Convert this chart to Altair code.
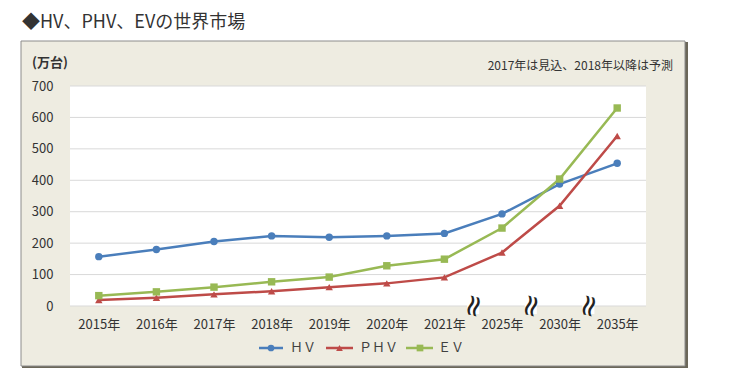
import altair as alt
import pandas as pd

# ---- data ----
years = ["2015年", "2016年", "2017年", "2018年", "2019年", "2020年", "2021年", "2025年", "2030年", "2035年"]
series_names = ["HV", "PHV", "EV"]
hv = [157, 180, 205, 223, 219, 223, 231, 293, 388, 454]
phv = [19, 26, 37, 47, 60, 72, 91, 170, 319, 541]
ev = [33, 45, 60, 77, 92, 128, 149, 248, 404, 630]
y_ticks = [0, 100, 200, 300, 400, 500, 600, 700]
break_before = ["2025年", "2030年", "2035年"]
legend_labels = ["ＨＶ", "ＰＨＶ", "ＥＶ"]
title_text = "◆HV、PHV、EVの世界市場"
unit_text = "(万台)"
note_text = "2017年は見込、2018年以降は予測"

colors = ["#4A7EBB", "#BE4B48", "#98B954"]
shapes = ["circle", "triangle-up", "square"]

rows = []
for name, vals in zip(series_names, [hv, phv, ev]):
    for yr, v in zip(years, vals):
        rows.append({"year": yr, "series": name, "value": v})
df = pd.DataFrame(rows)
grid_df = pd.DataFrame({"value": y_ticks})
break_df = pd.DataFrame({"year": break_before, "value": [0] * len(break_before)})
one = pd.DataFrame({"a": [0]})

W, H = 576, 220
FONT = "Noto Sans CJK JP"
TXT = "#333333"

x_enc = alt.X("year:N", sort=years,
              scale=alt.Scale(type="point", padding=0.5, domain=years),
              axis=alt.Axis(title=None, labelAngle=0, labelPadding=12, ticks=False,
                            domain=False, grid=False, labelFontSize=13,
                            labelColor=TXT, labelFont=FONT, zindex=1))
y_enc = alt.Y("value:Q", scale=alt.Scale(domain=[0, 700], nice=False),
              axis=alt.Axis(title=None, values=y_ticks, grid=False, ticks=False,
                            domain=False, labelPadding=17, labelFontSize=13,
                            labelColor=TXT, labelFont=FONT, zindex=1))
color_enc = alt.Color("series:N", scale=alt.Scale(domain=series_names, range=colors), legend=None)
shape_enc = alt.Shape("series:N", scale=alt.Scale(domain=series_names, range=shapes), legend=None)

shadow = alt.Chart(one).mark_rect(fill="#6B6759").encode(
    x=alt.value(-48), x2=alt.value(618), y=alt.value(-44), y2=alt.value(283))
frame = alt.Chart(one).mark_rect(fill="#EEECE1", stroke="#8C8C8C", strokeWidth=1).encode(
    x=alt.value(-49), x2=alt.value(615), y=alt.value(-45), y2=alt.value(280))
plotbg = alt.Chart(one).mark_rect(fill="white").encode(
    x=alt.value(0), x2=alt.value(W), y=alt.value(0), y2=alt.value(H))

grid = alt.Chart(grid_df).mark_rule(color="#D9D9D9", strokeWidth=1).encode(
    y=y_enc, x=alt.value(0), x2=alt.value(W))

lines = alt.Chart(df).mark_line(strokeWidth=2.5).encode(
    x=x_enc, y=y_enc, color=color_enc, detail="series:N")
points = alt.Chart(df).mark_point(filled=True, opacity=1, size=55).encode(
    x=x_enc, y=y_enc, color=color_enc, shape=shape_enc)

break_bg = alt.Chart(break_df).mark_rect(fill="white", width=12, height=16).encode(
    x=x_enc, y=y_enc, xOffset=alt.value(-28.8))
breaks = alt.Chart(break_df).mark_text(text="≈", angle=105, fontSize=30, color="#222222",
                                       font="DejaVu Sans").encode(
    x=x_enc, y=y_enc, xOffset=alt.value(-28.8))

title = alt.Chart(one).mark_text(text=title_text, align="left", baseline="middle",
                                 fontSize=18, font=FONT, color="#333333").encode(
    x=alt.value(-48), y=alt.value(-63))
unit = alt.Chart(one).mark_text(text=unit_text, align="left", baseline="middle",
                                fontSize=13, fontWeight="bold", font=FONT, color=TXT).encode(
    x=alt.value(-38), y=alt.value(-23))
note = alt.Chart(one).mark_text(text=note_text, align="right", baseline="middle",
                                fontSize=12, font=FONT, color=TXT).encode(
    x=alt.value(603), y=alt.value(-20))

legend_layers = []
leg_pos = [(189, 213, 201, 220), (256, 283, 269.5, 289), (336, 363, 350, 368)]
LY = 262
for (x1, x2, xm, xt), lbl, c, s in zip(leg_pos, legend_labels, colors, shapes):
    legend_layers.append(alt.Chart(one).mark_rule(color=c, strokeWidth=2.5).encode(
        x=alt.value(x1), x2=alt.value(x2), y=alt.value(LY)))
    legend_layers.append(alt.Chart(one).mark_point(shape=s, filled=True, opacity=1, size=45, color=c).encode(
        x=alt.value(xm), y=alt.value(LY)))
    legend_layers.append(alt.Chart(one).mark_text(text=lbl, align="left", baseline="middle",
                                                  fontSize=13, font=FONT, color="#404040").encode(
        x=alt.value(xt), y=alt.value(LY)))

chart = alt.layer(shadow, frame, plotbg, grid, lines, points, break_bg, breaks, title, unit, note,
                  *legend_layers).properties(
    width=W, height=H,
    padding={"left": 62, "top": 78, "right": 80, "bottom": 62},
    autosize=alt.AutoSizeParams(type="none"),
    background="white",
).configure_view(stroke=None)

chart.save("out.html", embed_options={"renderer": "svg", "actions": False})
